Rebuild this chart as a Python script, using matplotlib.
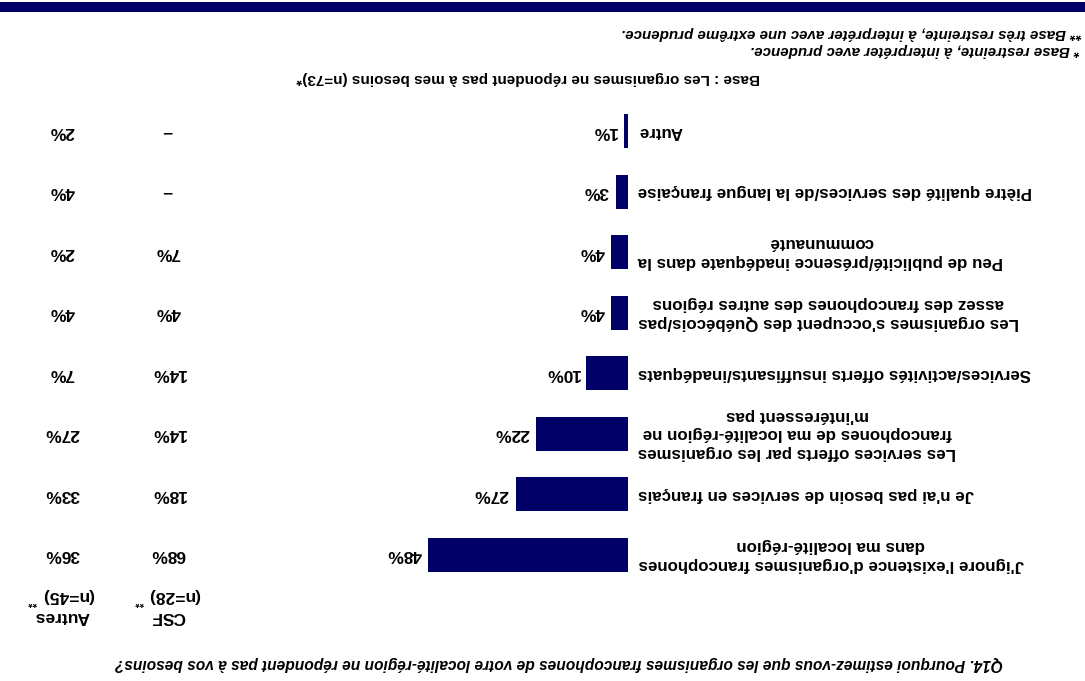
import matplotlib
matplotlib.use("Agg")
import matplotlib.pyplot as plt
import matplotlib.transforms as mtransforms
from matplotlib.patches import Rectangle

plt.rcParams['font.family'] = ['Liberation Sans', 'DejaVu Sans']

# ---- data ----
categories = [
    "J'ignore l'existence d'organismes francophones\ndans ma localité-région",
    "Je n'ai pas besoin de services en français",
    "Les services offerts par les organismes\nfrancophones de ma localité-région ne\nm'intéressent pas",
    "Services/activités offerts insuffisants/inadéquats",
    "Les organismes s'occupent des Québécois/pas\nassez des francophones des autres régions",
    "Peu de publicité/présence inadéquate dans la\ncommunauté",
    "Piètre qualité des services/de la langue française",
    "Autre",
]
total = [48, 27, 22, 10, 4, 4, 3, 1]
csf = [68, 18, 14, 14, 4, 7, None, None]
autres = [36, 33, 27, 7, 4, 2, 4, 2]
col_headers = ["CSF", "Autres"]
col_sizes = ["(n=28)", "(n=45)"]

title = ("Q14. Pourquoi estimez-vous que les organismes francophones de votre "
         "localité-région ne répondent pas à vos besoins?")
base_note = "Base : Les organismes ne répondent pas à mes besoins (n=73)*"
note1 = "* Base restreinte, à interpréter avec prudence."
note2 = "** Base très restreinte, à interpréter avec une extrême prudence."

NAVY = "#000066"
W, H = 1085, 681
fig = plt.figure(figsize=(W / 100, H / 100), dpi=100)

def fx(x):
    return x / W

def fy(y):
    return 1 - y / H

R = 180  # the whole chart is shown upside down

# top band
fig.patches.append(Rectangle((0, fy(12)), 1, 10 / H, transform=fig.transFigure,
                             facecolor=NAVY, edgecolor='none'))

# bars axes (value axis runs right->left, categories bottom->top)
ax = fig.add_axes([fx(378), fy(600), 250 / W, 500 / H])
ax.set_xlim(60, 0)
ax.set_ylim(-0.743, 7.512)
ax.axis('off')
ypos = list(range(len(categories)))
ax.barh(ypos, total, height=0.56, color=NAVY)
for i, v in enumerate(total):
    ax.text(v + 1.6, i, f"{v}%", rotation=R, ha='right', va='center',
            fontsize=12.5, fontweight='bold')

trans = mtransforms.blended_transform_factory(fig.transFigure, ax.transData)
for i, lab in enumerate(categories):
    ax.text(fx(638), i, lab, transform=trans, rotation=R, ha='left',
            va='center', multialignment='center', fontsize=12.2,
            fontweight='bold', linespacing=1.3)

# side columns
col_x = [fx(168), fx(62)]
for series, cx in zip([csf, autres], col_x):
    for i, v in enumerate(series):
        s = "–" if v is None else f"{v}%"
        ax.text(cx, i, s, transform=trans, rotation=R, ha='center', va='center',
                fontsize=12.5, fontweight='bold')

# column headers
for hdr, n, cx in zip(col_headers, col_sizes, col_x):
    fig.text(cx, fy(616), hdr, rotation=R, ha='center', va='center',
             fontsize=12.5, fontweight='bold')
    fig.text(cx + fx(6), fy(596), n, rotation=R, ha='center', va='center',
             fontsize=12.5, fontweight='bold')
fig.text(fx(140), fy(601), "**", rotation=R, ha='center', va='center',
         fontsize=8, fontweight='bold')
fig.text(fx(33), fy(601), "**", rotation=R, ha='center', va='center',
         fontsize=8, fontweight='bold')

# title, base and notes
fig.text(fx(1003), fy(663), title, rotation=R, ha='right', va='center',
         fontsize=11.2, fontweight='bold', fontstyle='italic')
fig.text(fx(760), fy(78), base_note, rotation=R, ha='right', va='center',
         fontsize=11, fontweight='bold')
fig.text(fx(1080), fy(50), note1, rotation=R, ha='right', va='center',
         fontsize=10.9, fontweight='bold', fontstyle='italic')
fig.text(fx(1082), fy(33), note2, rotation=R, ha='right', va='center',
         fontsize=10.9, fontweight='bold', fontstyle='italic')

fig.savefig("out.png", dpi=100)
